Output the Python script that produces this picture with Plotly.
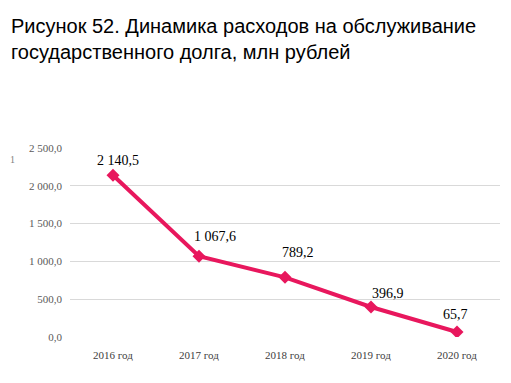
import plotly.graph_objects as go

categories = ["2016 год", "2017 год", "2018 год", "2019 год", "2020 год"]
values = [2140.5, 1067.6, 789.2, 396.9, 65.7]
label_xshift = [5, 16, 13, 17, -2]
label_yshift = [15, 20, 25, 13, 18]
title_text = "Рисунок 52. Динамика расходов на обслуживание<br>государственного долга, млн рублей"

fig = go.Figure()
fig.add_trace(go.Scatter(
    x=categories, y=values, mode="lines+markers",
    line=dict(color="#E8175D", width=4),
    marker=dict(symbol="diamond", size=10, color="#E8175D"),
    hoverinfo="skip",
))
for c, v, xs, ys in zip(categories, values, label_xshift, label_yshift):
    fig.add_annotation(
        x=c, y=v, text=f"{v:,.1f}".replace(",", " ").replace(".", ","),
        showarrow=False, xshift=xs, yshift=ys,
        font=dict(family="Liberation Serif", size=14, color="#000000"),
    )
fig.add_annotation(
    xref="paper", yref="paper", x=-0.144, xanchor="left", y=0.979, text="1",
    showarrow=False,
    font=dict(family="Liberation Serif", size=10, color="#808080"),
)
fig.add_annotation(
    xref="paper", yref="paper", x=-0.142, xanchor="left", y=1.716, yanchor="top",
    text=title_text, showarrow=False, align="left",
    font=dict(family="Liberation Sans", size=20, color="#000000"),
)
fig.update_layout(
    width=511, height=383,
    margin=dict(l=62, r=19, t=140, b=54),
    paper_bgcolor="white", plot_bgcolor="white",
    separators=", ",
    showlegend=False,
    xaxis=dict(range=[-0.5, 4.5], showgrid=False, showline=False, ticks="",
               ticklabelstandoff=10,
               tickfont=dict(family="Liberation Serif", size=11, color="#404040")),
    yaxis=dict(range=[0, 2500], dtick=500, tickformat=",.1f", showgrid=True,
               gridcolor="#D9D9D9", gridwidth=1, zeroline=False, showline=False,
               tickfont=dict(family="Liberation Serif", size=11, color="#595959"),
               ticklabelstandoff=7),
)
fig.write_html("out.html")
